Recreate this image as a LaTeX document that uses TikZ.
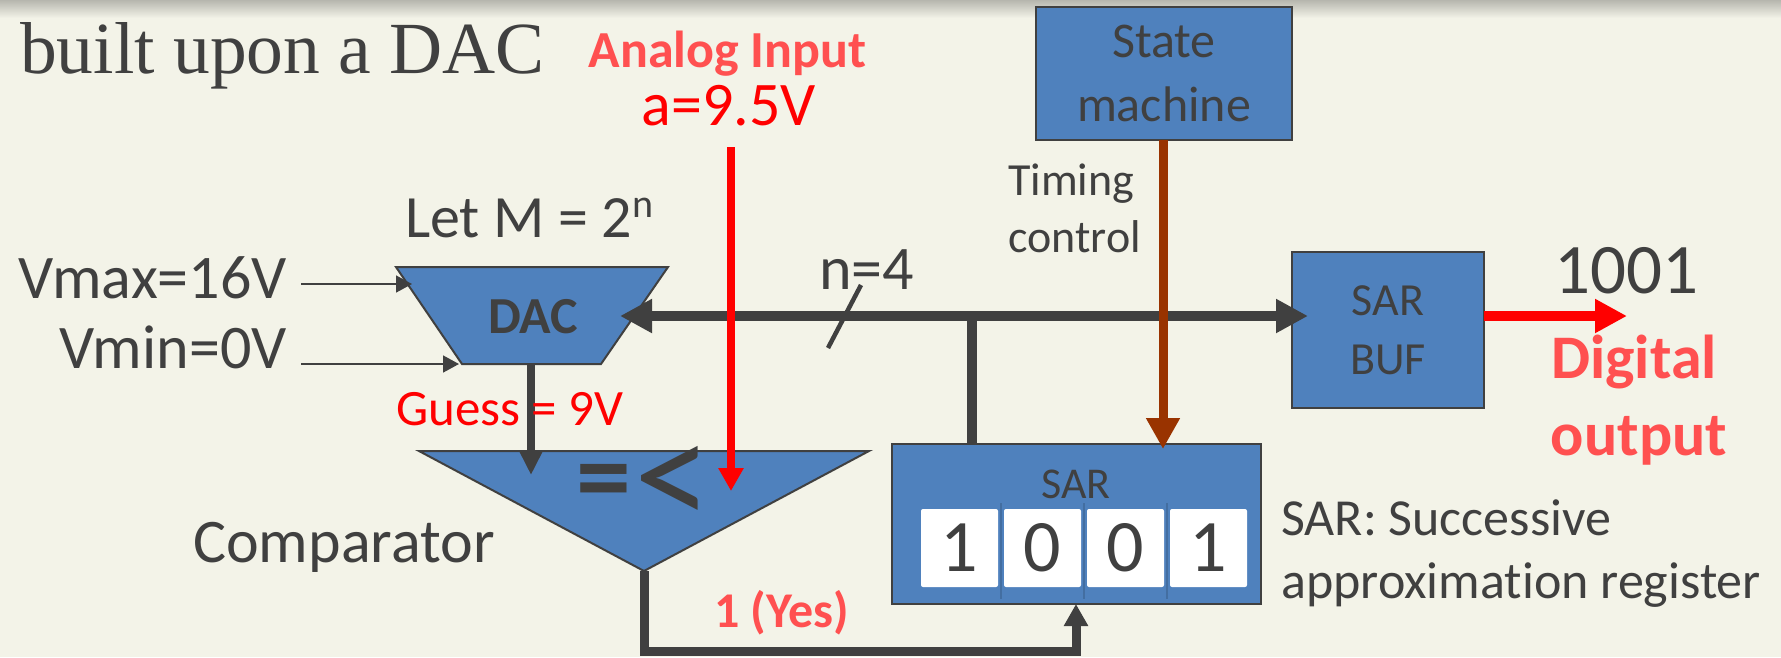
\documentclass[tikz,border=0pt]{standalone}
\usepackage{fontspec}
\setmainfont{Carlito}[Ligatures=NoCommon]
\newfontfamily\titleserif{Liberation Serif}
\usetikzlibrary{arrows.meta}
\definecolor{bg}{HTML}{F3F3E8}
\definecolor{ink}{HTML}{404040}
\definecolor{boxblue}{HTML}{4F81BD}
\definecolor{lightred}{HTML}{FF5050}
\definecolor{tbrown}{HTML}{993300}
\definecolor{pureRed}{HTML}{FF0000}
\newcommand\fsz[2]{\fontsize{#1pt}{#2pt}\selectfont}
\begin{document}
\begin{tikzpicture}[x=1pt,y=-1pt,
  txt/.style={inner sep=0pt, text=ink},
  blk/.style={draw=ink, line width=2.5pt, fill=boxblue, inner sep=0pt},
  cell/.style={fill=white, rounded corners=2pt, minimum width=77pt, minimum height=78pt, inner sep=0pt, font=\fsz{74}{80}, text=ink},
  wire/.style={draw=ink, line width=9pt},
  thinarrow/.style={draw=ink, line width=1.5pt, -{Triangle[length=16pt,width=17pt]}},
  bigtip/.style={-{Triangle[length=32pt,width=32pt]}}
]
\useasboundingbox (0,0) rectangle (1781,657);
\fill[bg] (0,0) rectangle (1781,657);
\shade[top color=black!25!bg, bottom color=bg] (0,0) rectangle (1781,18);

% title
\node[txt, anchor=base west, font=\titleserif\fsz{73.5}{80}] (title) at (20,73) {built upon a DAC};

% coordinates
\coordinate (dTL) at (396,267);
\coordinate (dTR) at (668,267);
\coordinate (dBR) at (601,364);
\coordinate (dBL) at (462,364);
\coordinate (dacout) at (531,364);
\coordinate (cmpL) at (419,451);
\coordinate (cmpR) at (869,451);
\coordinate (cmpApex) at (644,571);
\coordinate (cmpIn) at (531,475);
\coordinate (ainTop) at (731,147);
\coordinate (ainTip) at (731,491);
\coordinate (busL) at (620,316);
\coordinate (busR) at (1308,316);
\coordinate (busJ) at (972,316);
\coordinate (slashA) at (861,285);
\coordinate (slashB) at (828,348);
\coordinate (vmaxS) at (301,284);
\coordinate (vmaxT) at (412,284);
\coordinate (vminS) at (301,364);
\coordinate (vminT) at (459,364);
\coordinate (loopA) at (644,651);
\coordinate (loopB) at (1076,651);
\coordinate (sarIn) at (1076,604);
\coordinate (smOut) at (1163,140);
\coordinate (sarClk) at (1163,449);
\coordinate (outStart) at (1484,316);
\coordinate (outTip) at (1627,316);

% DAC
\draw[blk, line width=2pt, line join=miter] (dTL) -- (dTR) -- (dBR) -- (dBL) -- cycle;
\node[txt, anchor=base, font=\bfseries\fsz{52}{60}] (dac) at (533,333) {DAC};

% comparator
\draw[blk, line width=2pt, line join=miter] (cmpL) -- (cmpR) -- (cmpApex) -- cycle;
\node[txt, font=\bfseries\fsz{110}{120}] (cmp) at (644,487) {=\kern4pt\raisebox{-14pt}{\mdseries\fsz{155}{155}<}};

% boxes
\node[blk, minimum width=369pt, minimum height=160pt] (sar) at (1076.5,524) {};
\node[txt, anchor=base, font=\fsz{44}{50}] (sarlbl) at (1076,498) {SAR};
\foreach \gx in {1001,1084,1167}
  \draw[boxblue!85!black, line width=1.5pt] (\gx,503) -- (\gx,599);
\node[cell] (c1) at (959.5,548) {1};
\node[cell] (c2) at (1042.5,548) {0};
\node[cell] (c3) at (1125.5,548) {0};
\node[cell] (c4) at (1208.5,548) {1};

\node[blk, minimum width=192pt, minimum height=156pt, align=center, font=\fsz{46}{59}, text=ink] (sarbuf) at (1388,330) {SAR\\BUF};
\node[blk, minimum width=256pt, minimum height=133pt, align=center, font=\fsz{50}{64}, text=ink] (sm) at (1164,73.5) {State\\machine};

% connectors
\draw[thinarrow] (vmaxS) -- (vmaxT);
\draw[thinarrow] (vminS) -- (vminT);
\draw[wire, line width=8pt, -{Triangle[length=23pt,width=21pt]}] (dacout) -- (cmpIn);
\draw[wire, line width=10pt, {Triangle[length=32pt,width=32pt]}-{Triangle[length=32pt,width=32pt]}] (busL) -- (busR);
\draw[wire, line width=10pt] (busJ) -- (sar.north -| busJ);
\draw[ink, line width=4.5pt] (slashA) -- (slashB);
\draw[wire, line join=miter, -{Triangle[length=22pt,width=23pt]}] (cmpApex) -- (loopA) -- (loopB) -- (sarIn);
\draw[pureRed, line width=8pt, -{Triangle[length=23pt,width=24pt]}] (ainTop) -- (ainTip);
\draw[tbrown, line width=9pt, -{Triangle[length=31pt,width=32pt]}] (smOut) -- (sarClk);
\draw[pureRed, line width=10pt, bigtip] (outStart) -- (outTip);

% labels
\node[txt, anchor=base, font=\bfseries\fsz{52}{60}, text=lightred] (ain1) at (727.5,67) {Analog Input};
\node[txt, anchor=base, font=\fsz{62}{70}, text=pureRed] (ain2) at (729,125) {a=9.5V};
\node[txt, anchor=base west, font=\fsz{60}{70}] (letm) at (405,237) {Let M = 2\raisebox{20pt}{\fsz{40}{44}n}};
\node[txt, anchor=base east, font=\fsz{62}{70}] (vmax) at (287,298) {Vmax=16V};
\node[txt, anchor=base east, font=\fsz{62}{70}] (vmin) at (287,368) {Vmin=0V};
\node[txt, anchor=base west, font=\fsz{51}{60}, text=pureRed] (guess) at (396,425) {Guess = 9V};
\node[txt, anchor=base west, font=\fsz{62}{70}] (cmplbl) at (193,562) {Comparator};
\node[txt, anchor=base west, font=\bfseries\fsz{50}{60}, text=lightred] (yes) at (714,627) {1 (Yes)};
\node[txt, anchor=base west, font=\fsz{62}{70}] (nbits) at (819,289) {n=4};
\node[txt, anchor=base west, font=\fsz{46}{55}] (tim1) at (1008,195) {Timing};
\node[txt, anchor=base west, font=\fsz{46}{55}] (tim2) at (1008,252) {control};
\node[txt, anchor=base west, font=\fsz{71}{80}] (outval) at (1554,293) {1001};
\node[txt, anchor=base, font=\bfseries\fsz{62}{70}, text=lightred] (dig1) at (1634,378) {Digital};
\node[txt, anchor=base, font=\bfseries\fsz{62}{70}, text=lightred] (dig2) at (1639,455) {output};
\node[txt, anchor=base west, font=\fsz{52}{60}] (def1) at (1281,535) {SAR: Successive};
\node[txt, anchor=base west, font=\fsz{52}{60}] (def2) at (1281,598) {approximation register};
\end{tikzpicture}
\end{document}
